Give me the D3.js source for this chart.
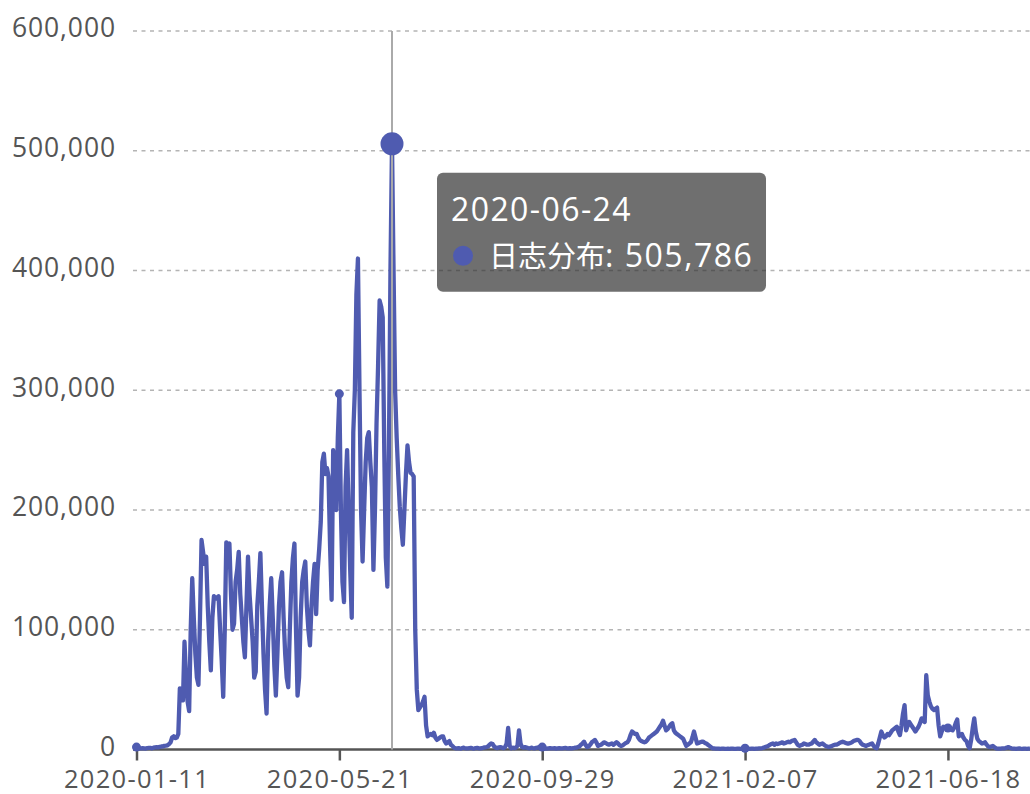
<!DOCTYPE html>
<html><head><meta charset="utf-8">
<script src="https://cdn.jsdelivr.net/npm/d3@7"></script>
<style>
body{margin:0;background:#fff;overflow:hidden}
svg text{font-family:"Open Sans","Noto Sans CJK SC",sans-serif}
</style>
</head><body>
<svg id="c" width="1030" height="794"></svg>
<script>
const startDate = "2020-01-11";
const seriesName = "日志分布";
const highlightDate = "2020-06-24";
const xTickLabels = ["2020-01-11","2020-05-21","2020-09-29","2021-02-07","2021-06-18"];
const yTicks = [0,100000,200000,300000,400000,500000,600000];
const values = [
2000,1200,1000,900,1100,1000,800,1200,1400,1300,
1000,1500,1800,2000,1700,2200,2500,2600,3000,3200,
3500,4500,6000,10000,11000,9500,10000,13000,51000,48000,
41000,90000,60000,40000,32000,100000,143000,110000,80000,60000,
54000,110000,175000,165000,155000,161000,120000,90000,66000,110000,
128000,126000,127000,128000,100000,75000,44000,100000,173000,170000,
172000,130000,100000,105000,140000,150000,165000,130000,110000,90000,
77000,120000,161000,130000,110000,90000,60000,65000,120000,140000,
164000,120000,80000,50000,30000,90000,120000,143000,110000,70000,
45000,80000,120000,140000,148000,110000,80000,60000,52000,100000,
140000,160000,172000,100000,45000,60000,110000,140000,150000,157000,
120000,100000,87000,120000,140000,155000,113000,150000,168000,190000,
240000,247000,230000,235000,228000,170000,125000,250000,220000,200000,
260000,297000,200000,140000,123000,220000,250000,200000,150000,110000,
265000,300000,380000,410000,300000,200000,157000,200000,240000,260000,
265000,240000,219000,150000,200000,272000,320000,375000,370000,361000,
250000,160000,136000,250000,400000,505786,400000,300000,261000,230000,
203000,185000,171000,200000,230000,254000,240000,231000,230000,228000,
100000,50000,33000,35000,37000,40000,44000,20000,11000,12000,
13000,12000,14000,10000,8000,9000,10000,11000,11000,7000,
5000,6000,7000,4000,3000,1500,1000,1000,1200,800,
1000,1500,1200,1000,900,1100,1300,1000,800,1200,
1400,1000,900,1100,1500,1800,2000,2500,4000,5000,
4500,2500,1500,1200,1800,2000,1500,1200,2000,5000,
18000,3000,1000,1500,1200,1500,3000,16000,5000,2000,
1500,2000,1500,1200,1000,1500,1200,1000,1300,1500,
2000,2500,2000,1500,1000,800,1000,1200,900,1000,
1100,800,1000,1200,1000,900,1100,1300,1000,900,
1200,1000,1100,1500,1500,2000,2500,4000,5000,6500,
4000,2000,2500,4000,6000,7000,8000,6000,3000,3500,
4000,5000,6000,5500,4500,4000,4500,5000,4000,5000,
6000,5000,3500,3000,3500,4500,5500,6000,8000,12000,
15000,14000,13000,13000,10000,8000,7000,6500,6000,6500,
8000,10000,11000,12000,13000,14000,15000,17000,19000,21000,
24000,20000,16000,17000,19000,21000,22000,16000,14000,13000,
12000,11000,10000,9000,6000,3000,4000,5000,6000,10000,
15000,10000,5000,5500,6000,6500,6500,5500,5000,4000,
3000,2000,1000,900,800,700,800,600,700,800,
600,500,700,600,800,700,500,600,700,800,
600,700,900,1000,800,700,600,700,800,600,
700,800,900,1000,1200,1500,2000,2500,3000,4000,
4500,5000,4000,5000,4500,5000,5500,6000,5000,5500,
6000,6500,6000,7000,7500,8000,6000,4000,3000,3500,
4000,5000,4500,4000,4000,4500,5000,6500,8000,6000,
5000,4000,4500,5000,4000,3000,2500,2000,2500,3000,
3500,4000,4000,4500,5500,6000,6500,6000,5500,5000,
5000,5500,6000,7000,7500,8000,8000,7000,5000,4000,
3500,3000,3500,4000,4500,5000,3000,1500,1000,5000,
10000,15000,12000,10000,11000,13000,12000,14000,16000,17000,
18000,19000,15000,12000,20000,30000,37000,16000,20000,23000,
21000,19000,17000,15000,17000,19000,22000,26000,24000,23000,
62000,45000,40000,36000,34000,33000,34000,35000,20000,11000,
15000,19000,18500,18000,18000,17500,17000,16000,18000,22000,
25000,11000,12000,13000,10000,8000,7000,3000,1000,8000,
18000,26000,15000,9000,7000,6000,5000,5500,6000,4000,
2500,2000,2500,3000,2000,1000,800,700,800,900,
1000,1200,1500,2000,1500,1000,800,700,600,800,
900,700,600,800,700,600,700,800
];

const lineColor = "#4f5bb0";
const parse = d3.utcParse("%Y-%m-%d"), fmt = d3.utcFormat("%Y-%m-%d");
const categories = values.map((v,i)=>fmt(d3.utcDay.offset(parse(startDate), i)));

const svg = d3.select("#c");
const x = d3.scalePoint().domain(categories).range([136.5, 1030]);
const y = d3.scaleLinear().domain([0,600000]).range([749.5, 31]);

// grid
svg.append("g").selectAll("line").data(yTicks.filter(t=>t>0)).join("line")
  .attr("x1",133).attr("x2",1030).attr("y1",d=>y(d)).attr("y2",d=>y(d))
  .attr("stroke","#b4b4b4").attr("stroke-width",1.5).attr("stroke-dasharray","4,4.5");

// y axis
const ya = svg.append("g").attr("transform","translate(133,0)")
  .call(d3.axisLeft(y).tickValues(yTicks).tickSize(0).tickPadding(17).tickFormat(d3.format(",")));
ya.select(".domain").remove();
ya.selectAll("text").attr("font-size",26.5).attr("fill","#555").attr("dy","0.22em")
  .attr("letter-spacing",0.9);

// x axis
const xa = svg.append("g").attr("transform","translate(0,749.5)")
  .call(d3.axisBottom(x).tickValues(xTickLabels).tickSize(11).tickSizeOuter(0));
xa.select(".domain").attr("stroke","#555").attr("stroke-width",2.5).attr("d","M133,0H1030");
xa.selectAll(".tick line").attr("stroke","#555").attr("stroke-width",2.5);
xa.selectAll("text").attr("font-size",25.5).attr("fill","#555").attr("y",38.5).attr("dy",0)
  .attr("letter-spacing",1.3);

// line
const line = d3.line().x((d,i)=>x(categories[i])).y(d=>y(d)).curve(d3.curveLinear);
svg.append("path").datum(values).attr("d",line).attr("fill","none")
  .attr("stroke",lineColor).attr("stroke-width",4.3).attr("stroke-linejoin","round");

// symbols at label ticks
svg.append("g").selectAll("circle").data(xTickLabels).join("circle")
  .attr("cx",d=>x(d)).attr("cy",d=>y(values[categories.indexOf(d)])).attr("r",4.5)
  .attr("fill",lineColor);

// axis pointer + highlight
const hi = categories.indexOf(highlightDate);
const hx = x(highlightDate), hy = y(values[hi]);
svg.append("line").attr("x1",hx).attr("x2",hx).attr("y1",31).attr("y2",749.5)
  .attr("stroke","#aaa").attr("stroke-width",2);
svg.append("circle").attr("cx",hx).attr("cy",hy).attr("r",11.5).attr("fill",lineColor);

// tooltip
const tt = svg.append("g").attr("transform",`translate(${hx+45},${hy+29})`);
tt.append("rect").attr("width",329).attr("height",119).attr("rx",6)
  .attr("fill","rgba(50,50,50,0.7)");
tt.append("text").attr("x",14).attr("y",48).attr("font-size",32).attr("fill","#fff")
  .attr("letter-spacing",1.4).text(highlightDate);
tt.append("circle").attr("cx",26).attr("cy",83).attr("r",10).attr("fill",lineColor);
const t2 = tt.append("text").attr("x",52).attr("y",94).attr("fill","#fff");
t2.append("tspan").attr("font-size",29).text(seriesName);
t2.append("tspan").attr("font-size",32).attr("letter-spacing",1.5)
  .text(": " + d3.format(",")(values[hi]));
</script>
</body></html>
